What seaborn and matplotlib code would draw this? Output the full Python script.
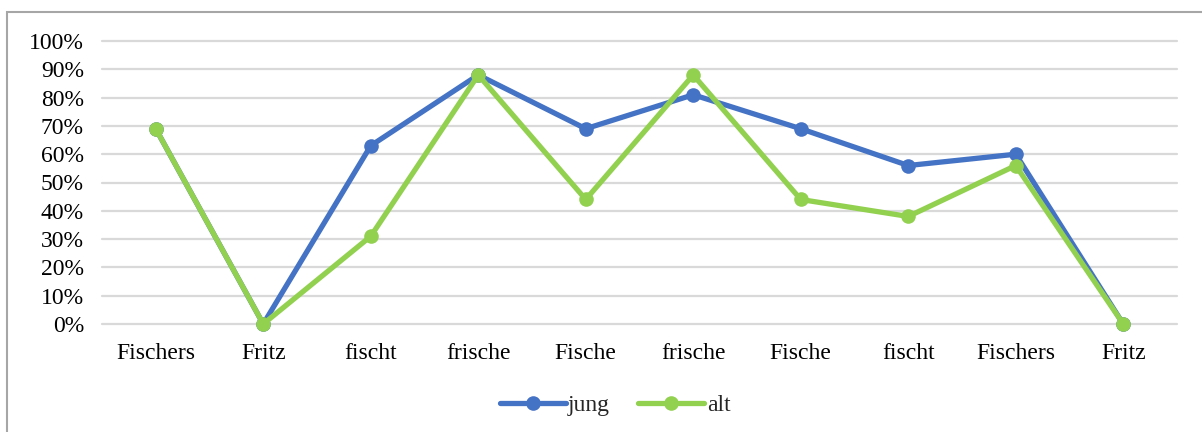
import matplotlib
matplotlib.use("Agg")
import matplotlib.pyplot as plt
import seaborn as sns
import pandas as pd
from matplotlib.patches import Rectangle
from matplotlib.ticker import PercentFormatter

categories = ["Fischers", "Fritz", "fischt", "frische", "Fische",
              "frische", "Fische", "fischt", "Fischers", "Fritz"]
jung = [69, 0, 63, 88, 69, 81, 69, 56, 60, 0]
alt = [69, 0, 31, 88, 44, 88, 44, 38, 56, 0]
series_names = ["jung", "alt"]
colors = ["#4472C4", "#92D050"]

rows = []
for name, vals in zip(series_names, [jung, alt]):
    for i, v in enumerate(vals):
        rows.append({"pos": i, "value": v / 100, "series": name})
df = pd.DataFrame(rows)

sns.set_theme(style="white")
plt.rcParams["font.family"] = ["Liberation Serif", "DejaVu Serif"]

fig = plt.figure(figsize=(12.02, 4.32), dpi=100)
ax = fig.add_axes([102 / 1202, 1 - 324 / 432, 1075 / 1202, 283 / 432])

sns.lineplot(data=df, x="pos", y="value", hue="series",
             palette=dict(zip(series_names, colors)), marker="o",
             markersize=10.5, markeredgewidth=0, linewidth=3.8,
             ax=ax, clip_on=False, zorder=3, legend=True)

ax.set_xlim(-0.5, len(categories) - 0.5)
ax.set_ylim(0, 1)
ax.set_yticks([i / 10 for i in range(11)])
ax.yaxis.set_major_formatter(PercentFormatter(1.0, decimals=0))
ax.set_xticks(range(len(categories)))
ax.set_xticklabels(categories)
ax.tick_params(axis="both", labelsize=17, colors="black", length=0)
ax.tick_params(axis="y", pad=13)
ax.tick_params(axis="x", pad=14)
ax.grid(axis="y", color="#D9D9D9", linewidth=1.6, zorder=0)
for gl in ax.get_ygridlines():
    gl.set_clip_on(False)
ax.set_axisbelow(True)
for s in ax.spines.values():
    s.set_visible(False)
ax.set_xlabel("")
ax.set_ylabel("")

handles, labels = ax.get_legend_handles_labels()
ax.legend(handles, labels, loc="center", bbox_to_anchor=(615 / 1202, 1 - 405 / 432),
          bbox_transform=fig.transFigure, ncol=2, frameon=False, fontsize=17,
          handlelength=2.8, handletextpad=0.1, columnspacing=1.2)

fig.patches.append(Rectangle((7 / 1202, -0.1), 1.2, 1.1 - 12 / 432 + 0.0,
                             transform=fig.transFigure, fill=False,
                             edgecolor="#A6A6A6", linewidth=1.5))
fig.savefig("out.png", dpi=100)
